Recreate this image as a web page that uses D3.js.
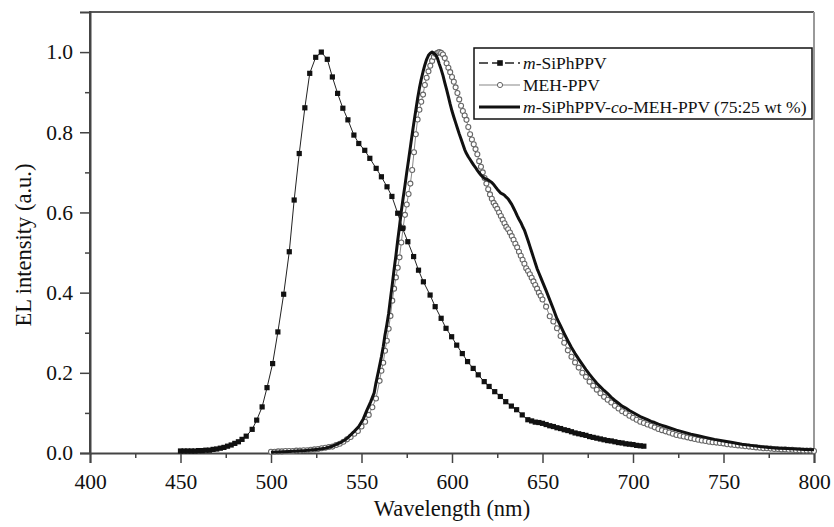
<!DOCTYPE html>
<html>
<head>
<meta charset="utf-8">
<script src="https://cdn.jsdelivr.net/npm/d3@7"></script>
<style>
  body { margin: 0; background: #fff; }
  svg text { font-family: "Liberation Serif", "DejaVu Serif", serif; fill: #111; }
</style>
</head>
<body>
<div id="chart"></div>
<script>
// m-SiPhPPV (filled squares)
const siWl = [450,452,454,456,458,460,462,464,466,468,470,472,474,476,478,480,482,484,
  486.3,489.6,492.1,495.1,497.8,500.9,503.8,507.0,510.1,512.8,515.6,518.7,521.4,524.7,527.8,
  531.1,533.9,536.8,539.7,542.5,545.8,548.5,551.8,554.6,558.1,561.0,564.1,566.8,570.0,572.7,
  575.6,578.8,581.5,584.2,587.9,590.7,594.0,596.7,599.8,602.6,605.7,608.6,611.7,614.5,617.8,
  620.5,623.6,626.7,629.7,632.8,635.7,638.8,641.9,
  644,646,648,650,652,654,656,658,660,662,664,666,668,670,672,674,676,678,680,682,684,686,
  688,690,692,694,696,698,700,702,704,706];
const siVal = [.005,.005,.005,.005,.005,.006,.006,.007,.007,.009,.010,.012,.014,.017,.020,.024,.028,.034,
  .042,.059,.082,.115,.163,.223,.302,.396,.502,.631,.747,.861,.947,.987,1.0,
  .982,.938,.897,.860,.831,.793,.772,.755,.735,.710,.689,.664,.640,.598,.560,
  .527,.490,.456,.427,.394,.365,.336,.311,.290,.269,.248,.228,.211,.195,.178,
  .166,.153,.141,.128,.117,.108,.095,.083,
  .080,.077,.076,.074,.071,.068,.066,.063,.061,.058,.056,.053,.050,.048,.046,.044,.041,.039,.037,.035,.033,.031,
  .030,.028,.026,.025,.023,.022,.021,.019,.018,.017];

// MEH-PPV (open circles)
const mehWl = [500,502,504,506,508,510,512,514,516,518,520,522,524,526,528,530,532,534,536,538,540,542,544,546,548,550,
  552,554,556,558,560,561,562,563,564,565,566,567,568,569,570,571,572,573,574,575,576,577,578,579,580,
  581,582,583,584,585,586,587,588,589,590,591,592,593,594,595,596,597,598,599,600,601,602,603,604,605,
  606,607,608,609,610,611,612,613,614,615,616,617,618,619,620,621,622,623,624,625,626,627,628,629,630,
  631,632,633,634,635,636,637,638,639,640,641,642,643,644,645,646,647,648,649,650,652,654,656,658,660,
  662,664,666,668,670,672,674,676,678,680,682,684,686,688,690,692,694,696,698,700,702,704,706,708,710,
  712,714,716,718,720,722,724,726,728,730,732,734,736,738,740,742,744,746,748,750,752,754,756,758,760,
  762,764,766,768,770,772,774,776,778,780,782,784,786,788,790,792,794,796,798,800];
const mehVal = [.003,.003,.004,.004,.005,.005,.005,.006,.006,.007,.007,.008,.009,.010,.012,.013,.015,.016,.020,.023,.028,.034,.040,.048,.055,.066,
  .078,.095,.114,.136,.180,.205,.225,.255,.280,.310,.342,.380,.410,.438,.462,.488,.525,.562,.594,.620,.646,.672,.706,.750,.795,
  .832,.856,.876,.894,.918,.936,.952,.966,.978,.988,.995,.998,1.0,.998,.994,.985,.972,.961,.950,.938,.926,.912,.898,.882,.866,
  .853,.842,.831,.813,.795,.782,.770,.758,.745,.728,.714,.700,.686,.672,.658,.645,.634,.624,.617,.609,.600,.591,.582,.573,.564,
  .558,.550,.541,.532,.522,.513,.502,.492,.482,.472,.461,.454,.446,.437,.428,.419,.410,.400,.392,.383,.365,.341,.328,.311,.292,
  .275,.256,.240,.226,.213,.200,.190,.178,.168,.158,.149,.140,.133,.126,.118,.111,.104,.099,.093,.088,.083,.078,.075,.071,.068,
  .064,.060,.057,.054,.051,.048,.045,.043,.041,.039,.037,.035,.033,.031,.030,.028,.027,.026,.025,.024,.022,.021,.020,.019,.018,
  .017,.016,.015,.014,.013,.012,.012,.011,.010,.010,.009,.009,.008,.008,.007,.007,.006,.006,.006,.005];

// m-SiPhPPV-co-MEH-PPV (75:25 wt %) (thick line)
const coWl = [500,510,519,525,530,534,538,541,543,546,548.5,551,553,555,557,558,559.5,561,562,563,564,565,566,567,568,569,
  570,571,572,573,574,575,576,577,578,579,580,581,582,583,584,585,586,587,588,589,590,591,592,593,594,595,596,597,598,599,
  600,601,602,603,604,605,606,607,608,609,610,611,612,613,614,615,616,617,618,619,620,621,622,623,624,625,626,627,628,629,
  630,631,632,633,634,635,636,637,638,639,640,641,642,643,644,645,646,647,648,649,650,652,654,656,658,660,662,664,666,668,
  670,672,674,676,678,680,682,684,686,688,690,692,694,696,698,700,702,704,706,708,710,712,714,716,718,720,724,728,732,736,
  740,745,750,755,760,765,770,775,780,785,790,795,800];
const coVal = [.002,.004,.006,.009,.012,.017,.025,.033,.041,.054,.066,.085,.107,.127,.150,.175,.207,.240,.265,.295,.320,.348,.385,.420,.458,.492,
  .530,.565,.603,.636,.667,.700,.731,.763,.795,.826,.855,.884,.910,.932,.951,.968,.982,.992,.997,1.0,.997,.993,.984,.970,.957,.942,.924,.907,.889,.870,
  .853,.838,.824,.810,.796,.783,.770,.757,.747,.739,.732,.725,.718,.712,.705,.699,.693,.689,.685,.683,.681,.678,.675,.670,.664,.658,.653,.648,.646,.643,
  .638,.634,.627,.620,.611,.602,.592,.583,.575,.565,.556,.543,.530,.516,.502,.488,.474,.460,.449,.438,.427,.405,.382,.359,.335,.317,.298,.280,.263,.248,
  .234,.221,.208,.196,.185,.174,.165,.156,.148,.139,.131,.124,.117,.112,.106,.101,.096,.091,.087,.083,.079,.076,.072,.069,.066,.063,.057,.052,.047,.043,
  .039,.034,.030,.026,.022,.019,.016,.014,.012,.011,.010,.009,.008];

const xMajor = [400,450,500,550,600,650,700,750,800];
const yMajor = [0.0,0.2,0.4,0.6,0.8,1.0];
const seriesNames = ["m-SiPhPPV", "MEH-PPV", "m-SiPhPPV-co-MEH-PPV (75:25 wt %)"];

const width = 834, height = 527;
const margin = {top: 12, right: 20, bottom: 74, left: 90};

const svg = d3.select("#chart").append("svg")
  .attr("width", width).attr("height", height);

const x = d3.scaleLinear().domain([400, 800]).range([margin.left, width - margin.right]);
const y = d3.scaleLinear().domain([0, 1.1]).range([height - margin.bottom, margin.top]);

const toPts = (wl, val) => wl.map((w, i) => ({w: w, v: val[i]}));
const line = d3.line().x(d => x(d.w)).y(d => y(d.v));

// frame (top + right)
svg.append("line").attr("x1", x(400)).attr("x2", x(800)).attr("y1", y(1.1)).attr("y2", y(1.1))
  .attr("stroke", "#222").attr("stroke-width", 1.5);
svg.append("line").attr("x1", x(800)).attr("x2", x(800)).attr("y1", y(1.1)).attr("y2", y(0))
  .attr("stroke", "#999").attr("stroke-width", 2);

// axes
const fmtY = d3.format(".1f");
svg.append("g").attr("transform", `translate(0,${y(0)})`)
  .call(d3.axisBottom(x).tickValues(xMajor).tickSize(10).tickPadding(11).tickFormat(d3.format("d")));
svg.append("g").attr("transform", `translate(0,${y(0)})`)
  .call(d3.axisBottom(x).tickValues(d3.range(425, 800, 50)).tickSize(5).tickFormat(""))
  .select(".domain").remove();
svg.append("g").attr("transform", `translate(${x(400)},0)`)
  .call(d3.axisLeft(y).tickValues(yMajor).tickSize(10).tickPadding(7).tickFormat(fmtY));
svg.append("g").attr("transform", `translate(${x(400)},0)`)
  .call(d3.axisLeft(y).tickValues([0.1,0.3,0.5,0.7,0.9]).tickSize(5).tickFormat(""))
  .select(".domain").remove();

svg.selectAll(".domain").attr("stroke", "#444").attr("stroke-width", 2);
svg.selectAll(".tick line").attr("stroke", "#444").attr("stroke-width", 1.5);
svg.selectAll(".tick text").attr("font-size", 21.5).attr("fill", "#111")
  .style("font-family", '"Liberation Serif", serif');
svg.append("line").attr("x1", x(400)).attr("x2", x(400)).attr("y1", y(1.1) - 1).attr("y2", y(0))
  .attr("stroke", "#444").attr("stroke-width", 2);

// axis titles
svg.append("text").attr("x", (x(400) + x(800)) / 2).attr("y", 516)
  .attr("text-anchor", "middle").attr("font-size", 22.5).text("Wavelength (nm)");
svg.append("text").attr("transform", `translate(31,245) rotate(-90)`)
  .attr("text-anchor", "middle").attr("font-size", 22.5).text("EL intensity (a.u.)");

// MEH-PPV
const meh = toPts(mehWl, mehVal);
svg.append("path").datum(meh).attr("d", line)
  .attr("fill", "none").attr("stroke", "#888").attr("stroke-width", 1);
svg.append("g").selectAll("circle").data(meh).join("circle")
  .attr("cx", d => x(d.w)).attr("cy", d => y(d.v)).attr("r", 2.5)
  .attr("fill", "#fff").attr("stroke", "#666").attr("stroke-width", 1.1);

// copolymer
svg.append("path").datum(toPts(coWl, coVal)).attr("d", line)
  .attr("fill", "none").attr("stroke", "#111").attr("stroke-width", 3)
  .attr("stroke-linejoin", "round");

// m-SiPhPPV
const si = toPts(siWl, siVal);
svg.append("path").datum(si).attr("d", line)
  .attr("fill", "none").attr("stroke", "#222").attr("stroke-width", 1);
const sq = 5.2;
svg.append("g").selectAll("rect").data(si).join("rect")
  .attr("x", d => x(d.w) - sq / 2).attr("y", d => y(d.v) - sq / 2)
  .attr("width", sq).attr("height", sq).attr("fill", "#111");

// legend
const lg = svg.append("g");
lg.append("rect").attr("x", 474).attr("y", 48).attr("width", 338).attr("height", 71)
  .attr("fill", "#fff").attr("stroke", "#111").attr("stroke-width", 1.5);
const rowY = [63, 85, 107];
lg.append("line").attr("x1", 479).attr("x2", 520).attr("y1", rowY[0]).attr("y2", rowY[0])
  .attr("stroke", "#222").attr("stroke-width", 1.3).attr("stroke-dasharray", "9,4");
lg.append("rect").attr("x", 500 - 2.8).attr("y", rowY[0] - 2.8).attr("width", 5.6).attr("height", 5.6).attr("fill", "#111");
lg.append("line").attr("x1", 479).attr("x2", 520).attr("y1", rowY[1]).attr("y2", rowY[1])
  .attr("stroke", "#888").attr("stroke-width", 1.2);
lg.append("circle").attr("cx", 500).attr("cy", rowY[1]).attr("r", 2.6)
  .attr("fill", "#fff").attr("stroke", "#666").attr("stroke-width", 1);
lg.append("line").attr("x1", 479).attr("x2", 520).attr("y1", rowY[2]).attr("y2", rowY[2])
  .attr("stroke", "#111").attr("stroke-width", 3);

const t1 = lg.append("text").attr("x", 523).attr("y", rowY[0] + 6).attr("font-size", 17.5);
t1.append("tspan").attr("font-style", "italic").text("m");
t1.append("tspan").text("-SiPhPPV");
lg.append("text").attr("x", 523).attr("y", rowY[1] + 6).attr("font-size", 17.5).text(seriesNames[1]);
const t3 = lg.append("text").attr("x", 523).attr("y", rowY[2] + 6).attr("font-size", 17.5);
t3.append("tspan").attr("font-style", "italic").text("m");
t3.append("tspan").text("-SiPhPPV-");
t3.append("tspan").attr("font-style", "italic").text("co");
t3.append("tspan").text("-MEH-PPV (75:25 wt %)");
</script>
</body>
</html>
